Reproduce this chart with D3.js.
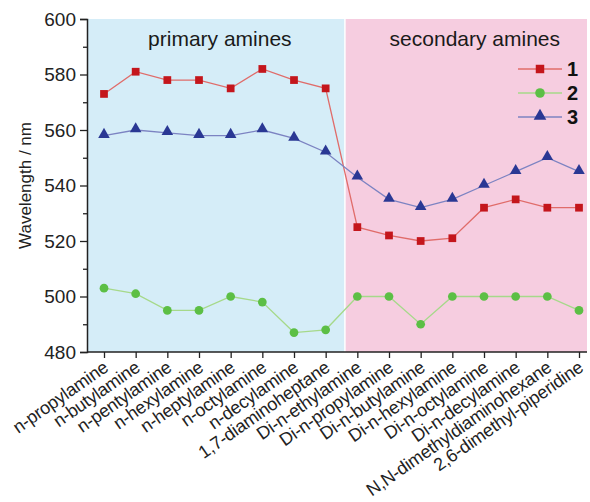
<!DOCTYPE html>
<html><head><meta charset="utf-8">
<script src="https://cdn.jsdelivr.net/npm/d3@7"></script>
<style>body{margin:0;background:#fff}svg{display:block}text{font-family:"Liberation Sans",Arial,sans-serif}</style>
</head><body>
<svg id="c" width="590" height="502"></svg>
<script>
const categories = ["n-propylamine","n-butylamine","n-pentylamine","n-hexylamine","n-heptylamine","n-octylamine","n-decylamine","1,7-diaminoheptane","Di-n-ethylamine","Di-n-propylamine","Di-n-butylamine","Di-n-hexylamine","Di-n-octylamine","Di-n-decylamine","N,N-dimethyldiaminohexane","2,6-dimethyl-piperidine"];
const series1 = [573,581,578,578,575,582,578,575,525,522,520,521,532,535,532,532];
const series2 = [503,501,495,495,500,498,487,488,500,500,490,500,500,500,500,495];
const series3 = [558,560,559,558,558,560,557,552,543,535,532,535,540,545,550,545];
const seriesNames = ["1","2","3"];
const yTicks = [480,500,520,540,560,580,600];
const groups = ["primary amines","secondary amines"];
const primaryCount = 8;

const svg = d3.select("#c");
const L = 87, R = 587, T = 19, B = 352;
const x = d3.scalePoint().domain(categories).range([104, 579]);
const y = d3.scaleLinear().domain([480,600]).range([B, T]);
const step = x.step();
const split = x(categories[primaryCount-1]) + step*0.6;

svg.append("rect").attr("x", L).attr("y", T).attr("width", split - L - 0.5).attr("height", B - T).attr("fill", "#d5edf8");
svg.append("rect").attr("x", split + 1).attr("y", T).attr("width", R - split - 1).attr("height", B - T).attr("fill", "#f6cde0");

svg.append("text").attr("x", (L + split)/2 + 4).attr("y", 46).attr("text-anchor","middle").attr("font-size",21).attr("fill","#1a1a1a").text(groups[0]);
svg.append("text").attr("x", (split + R)/2 + 9).attr("y", 46).attr("text-anchor","middle").attr("font-size",21).attr("fill","#1a1a1a").text(groups[1]);

// Y axis
const yAxis = d3.axisLeft(y).tickValues(yTicks).tickSize(7).tickPadding(4).tickFormat(d3.format("d"));
const gy = svg.append("g").attr("transform", `translate(${L},0)`).call(yAxis);
gy.select(".domain").attr("stroke","#222").attr("stroke-width",1.5);
gy.selectAll(".tick line").attr("stroke","#222").attr("stroke-width",1.3);
gy.selectAll(".tick text").attr("font-size",19).attr("fill","#222").attr("font-family","Liberation Sans, Arial, sans-serif");
const minor = d3.range(490, 600, 20);
svg.append("g").attr("transform", `translate(${L},0)`).call(d3.axisLeft(y).tickValues(minor).tickSize(4).tickFormat(""))
  .call(g => { g.select(".domain").remove(); g.selectAll("line").attr("stroke","#222").attr("stroke-width",1.3); });

// X axis
const gx = svg.append("g").attr("transform", `translate(0,${B})`).call(d3.axisBottom(x).tickSize(6).tickSizeOuter(0));
gx.select(".domain").attr("stroke","#222").attr("stroke-width",1.5).attr("d", `M${L},0H${R}`);
gx.selectAll(".tick line").attr("stroke","#222").attr("stroke-width",1.3);
gx.selectAll(".tick text").attr("font-size",18).attr("fill","#222").attr("font-family","Liberation Sans, Arial, sans-serif")
  .attr("text-anchor","end").attr("dy",null).attr("y",0).attr("letter-spacing","-0.2")
  .attr("transform","translate(5,18) rotate(-35)");

// Y label
svg.append("text").attr("transform", `translate(31,${(T+B)/2}) rotate(-90)`).attr("text-anchor","middle").attr("font-size",17).attr("fill","#222").text("Wavelength / nm");

const styles = [
  {data: series1, line: "#e06c6a", fill: "#c4161c", shape: "square"},
  {data: series2, line: "#a6d98a", fill: "#5cbf45", shape: "circle"},
  {data: series3, line: "#7c83c2", fill: "#2a3894", shape: "triangle"}
];
const sym = {square: d3.symbolSquare, circle: d3.symbolCircle, triangle: d3.symbolTriangle};
const size = {square: 60, circle: 60, triangle: 58};
const lineGen = d3.line().x((d,i) => x(categories[i])).y(d => y(d));
styles.forEach(s => {
  svg.append("path").attr("d", lineGen(s.data)).attr("fill","none").attr("stroke", s.line).attr("stroke-width",1.3);
});
styles.forEach(s => {
  svg.append("g").selectAll("path").data(s.data).join("path")
    .attr("transform", (d,i) => `translate(${x(categories[i])},${y(d) + (s.shape==="triangle"?-1:0)})`)
    .attr("d", d3.symbol(sym[s.shape], size[s.shape])).attr("fill", s.fill);
});

// Legend
const lg = svg.append("g");
styles.forEach((s, i) => {
  const ly = 69 + i*24;
  lg.append("line").attr("x1",518).attr("x2",562).attr("y1",ly).attr("y2",ly).attr("stroke",s.line).attr("stroke-width",1.3);
  lg.append("path").attr("transform",`translate(540,${ly + (s.shape==="triangle"?-1:0)})`).attr("d", d3.symbol(sym[s.shape], size[s.shape]*1.2)).attr("fill", s.fill);
  lg.append("text").attr("x",567).attr("y",ly+7).attr("font-size",20).attr("font-weight","bold").attr("fill","#111").text(seriesNames[i]);
});
</script>
</body></html>
